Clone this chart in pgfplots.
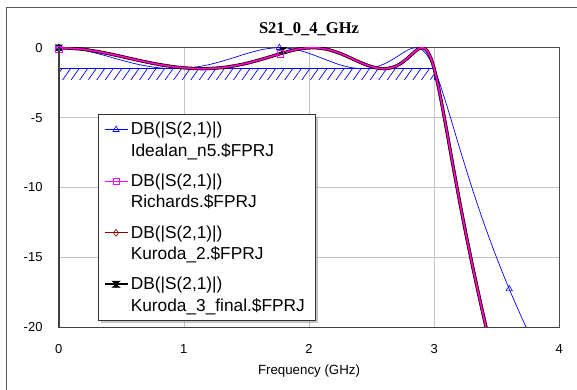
\documentclass[border=0pt]{standalone}
\usepackage{pgfplots}
\pgfplotsset{compat=1.18}
\usepackage{pgfplotstable}
\usepackage{fontspec}
\setmainfont{Liberation Sans}
\newfontfamily\titlefont{Liberation Serif}
\usetikzlibrary{patterns.meta,shadows}
\definecolor{mag}{RGB}{255,0,255}
\definecolor{dred}{RGB}{140,0,0}
\definecolor{gridgray}{RGB}{196,196,196}
\pgfdeclareplotmark{hourglass}{%
  \pgfpathmoveto{\pgfqpoint{-\pgfplotmarksize}{0.8\pgfplotmarksize}}%
  \pgfpathlineto{\pgfqpoint{\pgfplotmarksize}{0.8\pgfplotmarksize}}%
  \pgfpathlineto{\pgfqpoint{-\pgfplotmarksize}{-0.8\pgfplotmarksize}}%
  \pgfpathlineto{\pgfqpoint{\pgfplotmarksize}{-0.8\pgfplotmarksize}}%
  \pgfpathclose\pgfusepathqfillstroke}

\pgfplotstableread{
f db
0 0
0.15700 -0.118
0.31360 -0.426
0.46930 -0.814
0.62370 -1.171
0.77650 -1.414
0.92710 -1.500
1.07510 -1.414
1.22020 -1.171
1.36200 -0.814
1.50000 -0.426
1.63390 -0.118
1.76340 0
1.88800 -0.118
2.00740 -0.426
2.12130 -0.814
2.22940 -1.171
2.33140 -1.414
2.42710 -1.500
2.51600 -1.414
2.59810 -1.171
2.67300 -0.814
2.74060 -0.426
2.80070 -0.118
2.85320 0
2.89780 -0.118
2.93440 -0.426
2.96310 -0.814
2.98360 -1.171
2.99590 -1.414
3.00000 -1.500
3.02 -1.948
3.05 -2.699
3.10 -4.097
3.15 -5.582
3.20 -7.079
3.30 -9.962
3.40 -12.615
3.50 -15.039
3.60 -17.262
3.70 -19.315
3.75 -20.286
}\ideal

\pgfplotstableread{
f db
0 0
0.19973 -0.118
0.39783 -0.426
0.59271 -0.814
0.78300 -1.171
0.96740 -1.414
1.14481 -1.500
1.31441 -1.414
1.47557 -1.171
1.62785 -0.814
1.77101 -0.426
1.90497 -0.118
2.02979 0
2.14553 -0.118
2.25252 -0.426
2.35096 -0.814
2.44120 -1.171
2.52351 -1.414
2.59827 -1.500
2.66572 -1.414
2.72626 -1.171
2.78011 -0.814
2.82757 -0.426
2.86886 -0.118
2.90422 0
2.93383 -0.118
2.95783 -0.426
2.97636 -0.814
2.98948 -1.171
2.99738 -1.414
3.00000 -1.500
3.02 -2.227
3.05 -3.509
3.10 -5.922
3.15 -8.412
3.20 -10.833
3.25 -13.139
3.30 -15.329
3.35 -17.413
3.40 -19.408
3.45 -21.325
}\rich

\begin{document}
\begin{tikzpicture}
\useasboundingbox (0,0) rectangle (577pt,389pt);
\draw[black!65, line width=0.9pt] (6.7pt,-2pt) -- (6.7pt,381.7pt) -- (580pt,381.7pt);
\begin{axis}[
  name=ax,
  at={(58.7pt,61.7pt)}, anchor=south west,
  scale only axis, width=500.6pt, height=279.6pt,
  xmin=0, xmax=4, ymin=-20, ymax=0,
  xtick={0,1,2,3,4}, ytick={-20,-15,-10,-5,0},
  grid=major, major grid style={gridgray, line width=0.7pt},
  major tick length=0pt,
  axis line style={black!70, line width=0.8pt},
  tick label style={font=\fontsize{13}{15}\selectfont},
  /pgf/number format/assume math mode=true,
  xticklabel style={inner sep=0pt, anchor=north, yshift=-17pt},
  yticklabel style={inner sep=0pt, anchor=east, xshift=-16pt},
  title={S21\_0\_4\_GHz},
  title style={font=\titlefont\bfseries\fontsize{16.5}{18}\selectfont, at={(0.5,1)}, anchor=base, yshift=8.4pt},
  xlabel={Frequency (GHz)},
  xlabel style={font=\fontsize{13.3}{15}\selectfont, at={(0.5,0)}, anchor=base, yshift=-47.2pt},
  legend style={at={(0.0785,0.7629)}, anchor=north west, draw=black!80, line width=0.8pt, fill=white,
    drop shadow={shadow xshift=2.5pt, shadow yshift=-2.5pt, fill=black!45, draw=none},
    font=\fontsize{17.3}{21.5}\selectfont, cells={align=left}, row sep=12pt, inner xsep=5pt, inner ysep=6pt},
  legend cell align=left,
  legend image code/.code={\draw[mark repeat=2,mark phase=2,yshift=10.5pt,#1] plot coordinates {(0pt,0pt)(11.5pt,0pt)(23pt,0pt)};}
]
\addlegendimage{blue, line width=0.7pt, mark=triangle, mark size=3.6pt, mark options={fill=white, line width=0.6pt}}
\addlegendentry{DB(|S(2,1)|)\\Idealan\_n5.\$FPRJ}
\addlegendimage{mag, line width=0.9pt, mark=square, mark size=3.2pt, mark options={fill=white, line width=0.6pt}}
\addlegendentry{DB(|S(2,1)|)\\Richards.\$FPRJ}
\addlegendimage{dred, line width=1.2pt, mark=diamond, mark size=3.4pt, mark options={fill=white, line width=0.6pt}}
\addlegendentry{DB(|S(2,1)|)\\Kuroda\_2.\$FPRJ}
\addlegendimage{black, line width=2.4pt, mark=hourglass, mark size=4pt, mark options={fill=black, line width=0.5pt}}
\addlegendentry{DB(|S(2,1)|)\\Kuroda\_3\_final.\$FPRJ\hspace*{4pt}}

\addplot[draw=none, pattern={Lines[angle=55, distance=7pt, line width=0.7pt]}, pattern color=blue, forget plot]
  coordinates {(0,-1.5)(3,-1.5)(3,-2.3)(0,-2.3)(0,-1.5)};
\addplot[blue, line width=0.8pt, forget plot] coordinates {(0,-2.3)(0,-1.5)(3,-1.5)(3,-2.3)};

\addplot[blue, line width=0.7pt, smooth, forget plot] table {\ideal};
\addplot[black, line width=3.2pt, smooth, forget plot] table {\rich};
\addplot[dred, line width=2.2pt, smooth, forget plot] table {\rich};
\addplot[mag, line width=1.3pt, smooth, forget plot] table {\rich};

\addplot[only marks, blue, mark=triangle, mark size=3.6pt, mark options={fill=white, line width=0.6pt}, forget plot]
  coordinates {(0,0)(1.7634,0)(3.6,-17.262)};
\addplot[only marks, black, mark=hourglass, mark size=3.5pt, mark options={fill=black, line width=0.5pt}, forget plot]
  coordinates {(0,0)(1.79,-0.2)};
\addplot[only marks, mag, mark=square, mark size=3.2pt, mark options={fill=dred!60!mag, line width=0.6pt}, forget plot]
  coordinates {(0,-0.1)(1.771,-0.45)};
\end{axis}
\draw[black!75, line width=1.6pt] (ax.north west) -- (ax.south west) -- (ax.south east);
\end{tikzpicture}
\end{document}
